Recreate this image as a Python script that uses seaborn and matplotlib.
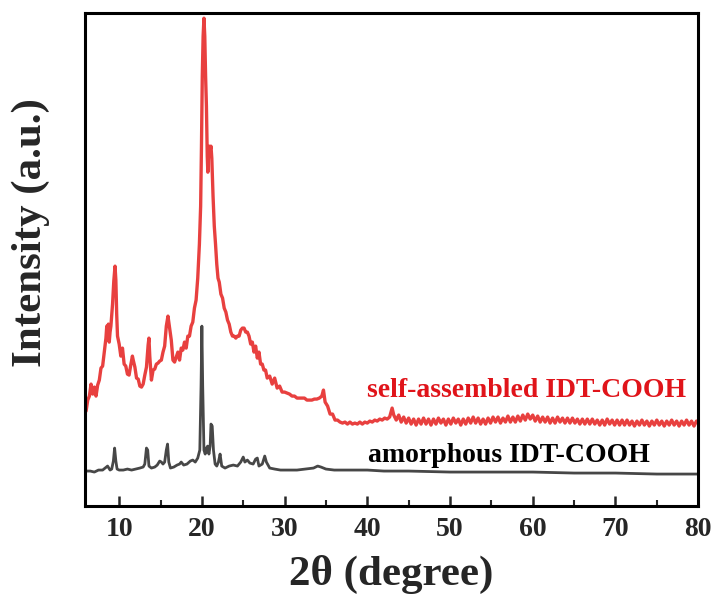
import numpy as np
import pandas as pd
import matplotlib
matplotlib.use("Agg")
import matplotlib.pyplot as plt
import seaborn as sns
from matplotlib.ticker import MultipleLocator

# ---------------- data (2theta in degree, intensity in a.u.) ----------------
red_x = [6.0, 6.2, 6.4, 6.6, 6.8, 7.0, 7.2, 7.4, 7.6, 7.8, 8.0, 8.2, 8.4, 8.5, 8.6, 8.7, 8.8, 8.9,
         9.0, 9.2, 9.35, 9.5, 9.6, 9.7, 9.8, 10.0, 10.2, 10.4, 10.6, 10.8, 11.0, 11.2, 11.4, 11.6,
         11.7, 11.9, 12.1, 12.3, 12.5, 12.7, 12.9, 13.1, 13.3, 13.5, 13.6, 13.7, 13.9, 14.1, 14.3,
         14.5, 14.7, 14.9, 15.1, 15.3, 15.5, 15.7, 15.9, 16.1, 16.3, 16.5, 16.7, 16.9, 17.1, 17.3,
         17.5, 17.7, 17.9, 18.1, 18.3, 18.5, 18.7, 18.9, 19.1, 19.3, 19.5, 19.7, 19.85, 19.95,
         20.05, 20.15, 20.25, 20.35, 20.45, 20.55, 20.65, 20.72, 20.8, 20.9, 21.0, 21.1, 21.2,
         21.35, 21.5, 21.65, 21.8, 21.95, 22.1, 22.3, 22.5, 22.7, 22.9, 23.1, 23.3, 23.5, 23.7,
         23.9, 24.1, 24.3, 24.5, 24.7, 24.9, 25.1, 25.3, 25.5, 25.7, 25.9, 26.1, 26.3, 26.5, 26.7,
         26.9, 27.1, 27.3, 27.5, 27.7, 27.9, 28.2, 28.5, 28.8, 29.1, 29.4, 29.7, 30.0, 30.3, 30.6,
         30.9, 31.2, 31.5, 31.8, 32.1, 32.4, 32.7, 33.0, 33.3, 33.6, 33.9, 34.2, 34.5, 34.7, 34.9,
         35.2, 35.5, 35.8, 36.1, 36.4, 36.7, 37.0, 37.3, 37.6, 37.9, 38.2, 38.5, 38.8, 39.1, 39.4,
         39.7, 40.0, 40.3, 40.6, 40.9, 41.2, 41.5, 41.8, 42.1, 42.4, 42.7, 43.0, 43.2, 43.5, 43.8,
         44.1, 44.4, 44.7, 45.0, 45.3, 45.6, 45.9, 46.2, 46.5, 46.8, 47.1, 47.4, 47.7, 48.0, 48.3,
         48.6, 48.9, 49.2, 49.5, 49.8, 50.1, 50.4, 50.7, 51.0, 51.3, 51.6, 51.9, 52.2, 52.5, 52.8,
         53.1, 53.4, 53.7, 54.0, 54.3, 54.6, 54.9, 55.2, 55.5, 55.8, 56.1, 56.4, 56.7, 57.0, 57.3,
         57.6, 57.9, 58.2, 58.5, 58.8, 59.1, 59.4, 59.7, 60.0, 60.3, 60.6, 60.9, 61.2, 61.5, 61.8,
         62.1, 62.4, 62.7, 63.0, 63.3, 63.6, 63.9, 64.2, 64.5, 64.8, 65.1, 65.4, 65.7, 66.0, 66.3,
         66.6, 66.9, 67.2, 67.5, 67.8, 68.1, 68.4, 68.7, 69.0, 69.3, 69.6, 69.9, 70.2, 70.5, 70.8,
         71.1, 71.4, 71.7, 72.0, 72.3, 72.6, 72.9, 73.2, 73.5, 73.8, 74.1, 74.4, 74.7, 75.0, 75.3,
         75.6, 75.9, 76.2, 76.5, 76.8, 77.1, 77.4, 77.7, 78.0, 78.3, 78.6, 78.9, 79.2, 79.5, 79.8,
         80.0]
red_y = [95, 106, 110, 122, 112, 119, 110, 121, 126, 138, 140, 154, 168, 180, 170, 182, 164, 174,
         180, 202, 225, 240, 226, 192, 170, 162, 150, 158, 142, 140, 132, 131, 141, 150,
         146, 139, 128, 127, 120, 119, 122, 131, 139, 161, 168, 150, 126, 136, 137,
         142, 143, 145, 146, 154, 160, 180, 190, 178, 166, 146, 144, 149, 154, 146,
         158, 156, 164, 158, 170, 170, 180, 184, 198, 206, 228, 262, 300, 360,
         430, 470, 488, 470, 430, 400, 350, 334, 350, 360, 356, 360, 348,
         310, 280, 262, 242, 228, 224, 212, 208, 198, 194, 186, 182, 174, 170,
         170, 168, 170, 170, 176, 178, 178, 174, 174, 170, 162, 164, 154, 160, 148,
         154, 142, 142, 136, 136, 128, 130, 122, 128, 118, 120, 114, 114, 113, 112,
         110, 110, 108, 108, 108, 108, 106, 106, 106, 107, 107, 108, 110, 116, 104,
         100, 92, 92, 86, 86, 84, 83, 84, 82, 84, 82, 83, 82, 84, 82,
         84, 83, 85, 84, 86, 85, 87, 86, 88, 87, 89, 98, 91, 86, 91,
         84, 89, 83, 88, 82, 87, 81, 87, 82, 88, 82, 87, 81, 87, 82,
         88, 83, 87, 81, 87, 82, 88, 83, 87, 81, 87, 82, 88, 83, 89,
         83, 88, 82, 87, 82, 88, 83, 89, 84, 89, 83, 88, 84, 90, 84,
         89, 84, 90, 85, 91, 86, 92, 87, 91, 85, 90, 84, 89, 84, 89,
         83, 88, 83, 89, 84, 88, 83, 88, 83, 88, 83, 87, 82, 87, 82,
         87, 82, 87, 82, 86, 81, 86, 81, 87, 82, 86, 81, 86, 81, 86,
         81, 86, 81, 85, 80, 85, 81, 86, 81, 85, 80, 85, 81, 86, 81,
         85, 80, 85, 81, 86, 81, 85, 80, 85, 81, 86, 81, 85, 80, 85,
         83]

gray_x = [6.0, 6.5, 7.0, 7.5, 8.0, 8.3, 8.6, 8.9, 9.1, 9.3, 9.45, 9.6, 9.75, 10.0, 10.5, 11.0,
          11.5, 12.0, 12.5, 12.9, 13.1, 13.3, 13.45, 13.6, 13.9, 14.3, 14.6, 14.9, 15.1, 15.3,
          15.5, 15.7, 15.85, 16.0, 16.2, 16.6, 17.0, 17.3, 17.5, 17.8, 18.2, 18.6, 18.9, 19.2,
          19.5, 19.75, 19.9, 20.0, 20.1, 20.25, 20.4, 20.55, 20.7, 20.85, 21.0, 21.1, 21.25,
          21.4, 21.6, 21.8, 22.0, 22.2, 22.4, 22.8, 23.3, 23.8, 24.3, 24.7, 25.0, 25.2, 25.5,
          25.8, 26.2, 26.5, 26.7, 26.9, 27.3, 27.6, 27.8, 28.2, 28.8, 29.5, 30.5, 31.5, 32.5,
          33.5, 34.0, 34.4, 35.0, 36.0, 38.0, 40.0, 42.0, 45.0, 50.0, 55.0, 60.0, 65.0, 70.0,
          75.0, 80.0]
gray_y = [35, 35, 34, 36, 36, 38, 40, 36, 37, 45, 58, 45, 37, 36, 36, 37,
          36, 37, 38, 39, 42, 58, 56, 40, 38, 39, 41, 45, 44, 42,
          44, 56, 62, 44, 38, 39, 41, 42, 44, 41, 42, 45, 46, 44,
          48, 56, 120, 180, 120, 56, 52, 58, 60, 52, 60, 82, 80,
          56, 42, 40, 44, 52, 40, 38, 40, 41, 40, 44, 49, 44, 46,
          43, 42, 47, 48, 40, 42, 50, 44, 38, 37, 36, 36, 36, 37,
          38, 40, 39, 37, 36, 36, 36, 35, 35, 34, 34, 34, 33, 33,
          32, 32]

label_red = "self-assembled IDT-COOH"
label_gray = "amorphous IDT-COOH"
x_label = "2\u03b8 (degree)"
y_label = "Intensity (a.u.)"
x_ticks = [10, 20, 30, 40, 50, 60, 70, 80]

# ---------------- style ----------------
sns.set_theme(style="white")
plt.rcParams['font.family'] = ['Liberation Serif', 'DejaVu Serif']
plt.rcParams['font.weight'] = 'bold'
plt.rcParams['mathtext.default'] = 'regular'

fig = plt.figure(figsize=(7.19, 6.01), dpi=100)
ax = fig.add_axes([0.118, 0.158, 0.853, 0.820])

df_red = pd.DataFrame({"x": red_x, "y": red_y})
df_gray = pd.DataFrame({"x": gray_x, "y": gray_y})

sns.lineplot(data=df_gray, x="x", y="y", ax=ax, color="#474747", linewidth=2.0,
             estimator=None, sort=False)
sns.lineplot(data=df_red, x="x", y="y", ax=ax, color="#e8403f", linewidth=2.4,
             estimator=None, sort=False)

ax.set_xlim(5.85, 80)
ax.set_ylim(0, 493)

ax.set_xticks(x_ticks)
ax.set_xticklabels([str(t) for t in x_ticks])
ax.xaxis.set_minor_locator(MultipleLocator(5))
ax.tick_params(axis='x', which='major', direction='in', length=7, width=1.8,
               labelsize=20, pad=8, bottom=True, top=False)
ax.tick_params(axis='x', which='minor', direction='in', length=4, width=1.5,
               bottom=True, top=False)
ax.tick_params(axis='y', left=False, right=False, labelleft=False)
for lab in ax.get_xticklabels():
    lab.set_fontweight('bold')

for sp in ax.spines.values():
    sp.set_visible(True)
    sp.set_color('black')
    sp.set_linewidth(2.2)

ax.set_xlabel(x_label, fontsize=31, fontweight='bold', labelpad=9)
ax.set_ylabel(y_label, fontsize=31, fontweight='bold')
ax.yaxis.set_label_coords(-0.057, 0.555)

ax.text(40.0, 109, label_red, color="#e0141a", fontsize=20, fontweight='bold',
        ha='left', va='baseline')
ax.text(40.1, 44, label_gray, color="black", fontsize=20, fontweight='bold',
        ha='left', va='baseline')

fig.savefig("out.png", dpi=100)
